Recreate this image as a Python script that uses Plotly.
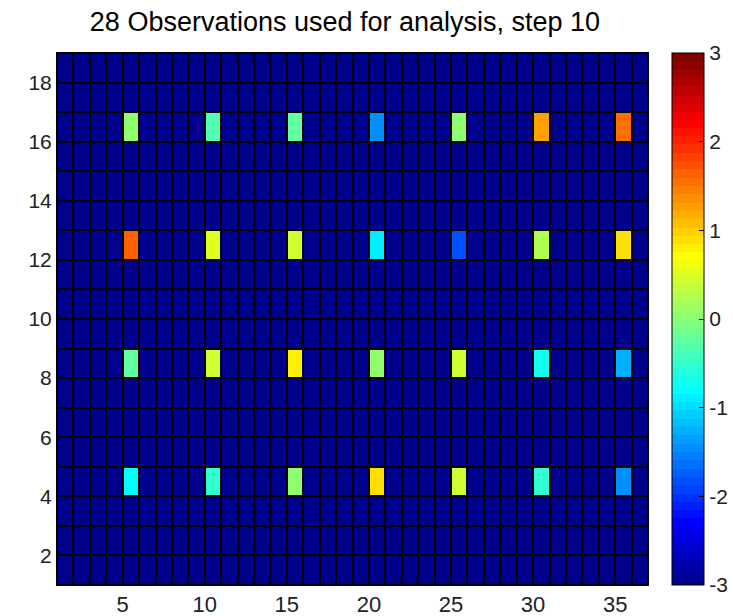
import numpy as np
import plotly.graph_objects as go

# Observation locations (grid nodes) and values
obs_x = [5, 10, 15, 20, 25, 30, 35]
obs_y = [4, 8, 12, 16]
values_y4 = [-0.78, -0.47, 0.09, 0.90, 0.38, -0.56, -1.50]
values_y8 = [-0.26, 0.38, 0.78, 0.09, 0.38, -0.75, -1.22]
values_y12 = [1.65, 0.56, 0.45, -0.86, -1.85, 0.20, 0.86]
values_y16 = [0.02, -0.35, -0.28, -1.50, 0.00, 1.25, 1.52]
background_value = -3.0
nx, ny = 37, 19  # grid nodes
x_ticks = [5, 10, 15, 20, 25, 30, 35]
y_ticks = [2, 4, 6, 8, 10, 12, 14, 16, 18]
cbar_ticks = [-3, -2, -1, 0, 1, 2, 3]
cbar_ticktext = ["-3", "-2", "-1", "0", "1", "2", "3"]
title_text = "28 Observations used for analysis, step 10"

# MATLAB jet(64)
def matlab_jet(n=64):
    m = int(np.ceil(n / 4))
    u = np.concatenate([np.arange(1, m + 1) / m, np.ones(m - 1), np.arange(m, 0, -1) / m])
    g = int(np.ceil(m / 2)) - (1 if n % 4 == 1 else 0) + np.arange(1, len(u) + 1)
    r = g + m
    b = g - m
    J = np.zeros((n, 3))
    for arr, col in ((r, 0), (g, 1), (b, 2)):
        for k, idx in enumerate(arr):
            if 1 <= idx <= n:
                J[idx - 1, col] = u[k]
    return J

J = matlab_jet(64)
colorscale = []
for i, c in enumerate(J):
    rgb = "rgb(%d,%d,%d)" % tuple(int(round(v * 255)) for v in c)
    colorscale.append([i / 64, rgb])
    colorscale.append([(i + 1) / 64, rgb])

rows = {4: values_y4, 8: values_y8, 12: values_y12, 16: values_y16}
z = np.full((ny - 1, nx - 1), background_value)
for yy, vals in rows.items():
    for xx, v in zip(obs_x, vals):
        z[yy - 1, xx - 1] = v

xc = np.arange(1, nx) + 0.5
yc = np.arange(1, ny) + 0.5

L, R, T, B = 57, 85, 53, 31
PW = 733 - L - R
FONT = "Liberation Sans, Arial"

fig = go.Figure(go.Heatmap(
    z=z, x=xc, y=yc, colorscale=colorscale, zmin=-3, zmax=3,
    xgap=2, ygap=2, hoverinfo="skip",
    colorbar=dict(
        x=(672 - L) / PW, xanchor="left", xpad=0,
        y=0.5, yanchor="middle", ypad=0, len=1, lenmode="fraction",
        thickness=32, outlinecolor="black", outlinewidth=1,
        tickvals=cbar_ticks, ticktext=cbar_ticktext,
        ticks="inside", ticklen=5, tickcolor="black",
        tickfont=dict(family=FONT, size=21, color="#222"),
    ),
))

fig.update_layout(
    width=733, height=616,
    margin=dict(l=L, r=R, t=T, b=B, autoexpand=False),
    paper_bgcolor="white", plot_bgcolor="black",
    title=dict(text=title_text, x=(85 + 605) / 2 / 733, xanchor="center",
               y=1 - 22 / 616, yanchor="middle",
               font=dict(family=FONT, size=27, color="black")),
)
fig.update_xaxes(range=[1, nx], tickvals=x_ticks, ticks="inside", ticklen=5,
                 tickcolor="black", showgrid=False, zeroline=False, automargin=False,
                 showline=True, linecolor="black", mirror=True,
                 tickfont=dict(family=FONT, size=22, color="#222"))
fig.update_yaxes(range=[1, ny], tickvals=y_ticks, ticks="inside", ticklen=5,
                 tickcolor="black", showgrid=False, zeroline=False, automargin=False,
                 showline=True, linecolor="black", mirror=True,
                 tickfont=dict(family=FONT, size=21, color="#222"))

fig.write_html("out.html")
